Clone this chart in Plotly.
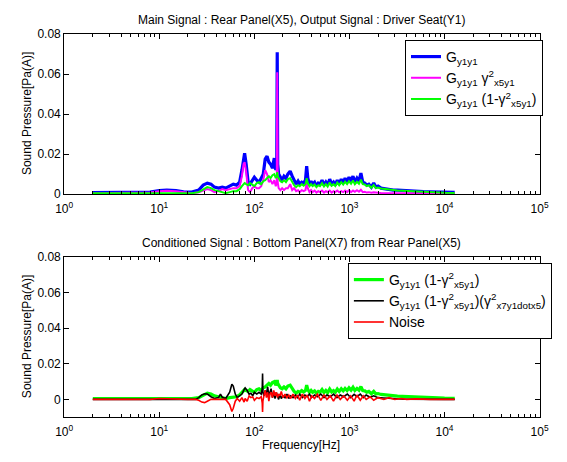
import plotly.graph_objects as go

# ---------------- data ----------------
freq_main = [2, 5, 8, 10, 12, 15, 18, 22, 26, 29, 32, 35, 38, 42, 46, 50, 55, 60, 65, 70,
             74, 77, 79, 82, 86, 90, 95, 100, 106, 112, 118, 124, 130, 136, 142, 148, 155,
             162, 168, 172, 174, 176, 180, 188, 196, 205, 215, 225, 238,
             250, 262, 275, 288, 300, 315, 330, 345, 355, 365,
             380, 395, 410, 430, 450, 470, 490, 515, 540, 565,
             590, 620, 650, 680, 710, 745, 780, 820, 860, 900,
             945, 990, 1040, 1090, 1140, 1200, 1260, 1320, 1380, 1450,
             1520, 1600, 1700, 1800, 1900, 2000, 2150, 2300, 2500, 2700,
             2900, 3200, 3600, 4200, 5000, 6000, 7000, 8500, 10000, 12800]

g_y1y1 = [0.0008, 0.0008, 0.001, 0.0018, 0.002, 0.0018, 0.0012, 0.001, 0.002, 0.0045, 0.0055,
          0.005, 0.0035, 0.003, 0.0035, 0.003, 0.004, 0.005, 0.0045, 0.006,
          0.012, 0.019, 0.0205, 0.015, 0.006, 0.005, 0.007, 0.0085, 0.007, 0.006, 0.008, 0.010,
          0.0175, 0.019, 0.016, 0.015, 0.013,
          0.018, 0.012, 0.015, 0.071, 0.015, 0.010, 0.008, 0.007, 0.009, 0.008, 0.010, 0.0115,
          0.009, 0.007, 0.005, 0.0065, 0.005, 0.006, 0.0055, 0.007, 0.014, 0.008,
          0.005, 0.0065, 0.005, 0.006, 0.004, 0.0055, 0.005, 0.007, 0.0045, 0.006,
          0.0045, 0.0075, 0.005, 0.006, 0.0045, 0.007, 0.005, 0.0075, 0.0055, 0.008,
          0.006, 0.0085, 0.0065, 0.009, 0.006, 0.008, 0.0065, 0.0105, 0.006, 0.0055,
          0.0045, 0.005, 0.0035, 0.0055, 0.0035, 0.004, 0.003, 0.0028, 0.0025, 0.0022,
          0.002, 0.002, 0.0018, 0.0016, 0.0015, 0.0013, 0.0012, 0.001, 0.001, 0.0009]

g_coh = [0.0005, 0.0005, 0.0008, 0.0015, 0.0017, 0.0015, 0.001, 0.0005, 0.001, 0.002, 0.0025,
         0.002, 0.001, 0.0015, 0.0025, 0.002, 0.0025, 0.003, 0.003, 0.004,
         0.009, 0.015, 0.016, 0.011, 0.002, 0.001, 0.003, 0.004, 0.003, 0.003, 0.004, 0.007,
         0.012, 0.010, 0.006, 0.007, 0.005,
         0.007, 0.004, 0.006, 0.061, 0.006, 0.003, 0.002, 0.003, 0.002, 0.003, 0.003, 0.005,
         0.002, 0.003, 0.0015, 0.002, 0.001, 0.002, 0.0015, 0.002, 0.006, 0.003,
         0.001, 0.002, 0.001, 0.0018, 0.0008, 0.0015, 0.001, 0.0018, 0.0008, 0.0015,
         0.001, 0.0018, 0.0008, 0.0015, 0.001, 0.0018, 0.0009, 0.0015, 0.001, 0.0018,
         0.001, 0.002, 0.001, 0.0018, 0.0012, 0.002, 0.0012, 0.0022, 0.001, 0.0012,
         0.0008, 0.001, 0.0007, 0.0009, 0.0006, 0.0007, 0.0006, 0.0006, 0.0005, 0.0005,
         0.0005, 0.0005, 0.0005, 0.0005, 0.0005, 0.0005, 0.0005, 0.0005, 0.0005, 0.0005]

g_incoh = [0.0005, 0.0005, 0.0005, 0.0006, 0.0007, 0.0007, 0.0006, 0.0005, 0.001, 0.0025, 0.0035,
           0.003, 0.002, 0.0015, 0.001, 0.0005, 0.001, 0.0015, 0.0015, 0.0025,
           0.004, 0.005, 0.0055, 0.005, 0.0045, 0.0055, 0.0045, 0.004, 0.0055, 0.006, 0.005,
           0.0065, 0.007, 0.008, 0.009, 0.008, 0.0095,
           0.010, 0.008, 0.009, 0.011, 0.009, 0.008, 0.0065, 0.006, 0.007, 0.006, 0.0075, 0.008,
           0.006, 0.0045, 0.0035, 0.0045, 0.004, 0.005, 0.0042, 0.005, 0.008, 0.0055,
           0.004, 0.005, 0.004, 0.0048, 0.0035, 0.0045, 0.004, 0.0055, 0.0038, 0.005,
           0.0038, 0.0058, 0.0042, 0.005, 0.004, 0.0058, 0.0045, 0.006, 0.0048, 0.0062,
           0.005, 0.0065, 0.0052, 0.0068, 0.005, 0.0062, 0.0052, 0.0072, 0.005, 0.0048,
           0.004, 0.0045, 0.0032, 0.0045, 0.003, 0.0033, 0.0028, 0.0026, 0.0024, 0.0021,
           0.002, 0.0018, 0.0017, 0.0015, 0.0013, 0.0011, 0.001, 0.0008, 0.0007, 0.0006]

freq_cond = [2, 5, 8, 10, 12, 15, 20, 24, 26, 28, 30, 32, 35, 38, 42, 44, 46, 50, 55, 58,
             60, 63, 66, 70, 74, 78, 80, 84, 88, 92, 96, 100, 106, 112, 118, 121, 122, 123,
             126, 130, 134, 138, 142, 146, 150, 155, 160, 165, 170, 175, 180, 186, 192, 200,
             210, 220, 230, 240, 255, 270, 285, 300, 320, 340, 360, 380, 400, 430, 460, 500,
             540, 580, 630, 680, 740, 800, 870, 950, 1030, 1120, 1200, 1300, 1400, 1500, 1650,
             1800, 2000, 2300, 2600, 3000, 3500, 4000, 5000, 6000, 7000, 8500, 10000, 12800]

g_cond_x7 = [0, 0, 0, 0.0003, 0.0002, 0, 0, 0, 0.001, 0.0025, 0.0032, 0.003, 0.0015, 0.0005,
             0.001, 0.003, 0.0012, 0.0005, 0.004, 0.0085,
             0.0075, 0.003, 0.001, 0.002, 0.003, 0.0055, 0.0065, 0.005, 0.003, 0.0035, 0.002,
             0.004, 0.003, 0.004, 0.003, 0.006, 0.0145, 0.004,
             0.002, 0.005, 0.003, 0.007, 0.002, 0.005, 0.006, 0.001, 0.004, 0.0005, 0.004,
             0.002, 0.0, 0.003, 0.0005, 0.002,
             0.001, 0.003, 0.0005, 0.002, 0.001, 0.0025, 0.001, 0.003, 0.001, 0.0025, 0.0015,
             0.003, 0.001, 0.0025, 0.0015, 0.003,
             0.001, 0.0025, 0.0015, 0.003, 0.001, 0.0025, 0.0015, 0.003, 0.001, 0.0028, 0.0015,
             0.003, 0.001, 0.0025, 0.0012,
             0.002, 0.001, 0.0008, 0.0005, 0.0003, 0.0002, 0.0001, 0, 0, 0, 0, 0, 0]

noise = [0, 0, 0, 0.0005, 0.0003, 0, 0, 0, -0.0005, -0.0015, -0.0018, -0.001, 0, 0,
         0, 0, 0, 0, -0.003, -0.0068,
         -0.005, -0.001, 0.0005, -0.001, 0.001, -0.0015, 0.0005, -0.001, 0.002, 0.001, 0.0015,
         -0.0005, 0.001, 0.0005, 0.0015, -0.002, -0.007, -0.001,
         0.002, 0.005, 0.001, 0.004, -0.001, 0.003, 0.004, 0.001, 0.005, 0.002, 0.004,
         0.001, 0.003, 0.002, 0.0045, 0.001,
         0.003, 0.001, 0.0025, 0.0005, 0.003, 0.0005, 0.0025, -0.0005, 0.003, 0.0005, 0.0025,
         -0.001, 0.002, 0.0005, 0.003, -0.0005,
         0.0025, 0, 0.002, -0.001, 0.0025, 0, 0.002, -0.0005, 0.002, -0.001, 0.0025,
         -0.0005, 0.002, 0, 0.0015,
         -0.0005, 0.001, 0, 0.001, 0, 0.0005, 0, 0.0003, 0, 0, 0, 0, 0]

xtick_vals = [1, 10, 100, 1000, 10000, 100000]
xtick_text = ["10<sup>0</sup>", "10<sup>1</sup>", "10<sup>2</sup>", "10<sup>3</sup>",
              "10<sup>4</sup>", "10<sup>5</sup>"]
ytick_vals = [0, 0.02, 0.04, 0.06, 0.08]
ytick_text = ["0", "0.02", "0.04", "0.06", "0.08"]

title_top = "Main Signal : Rear Panel(X5), Output Signal : Driver Seat(Y1)"
title_bottom = "Conditioned Signal : Bottom Panel(X7) from Rear Panel(X5)"
ylabel = "Sound Pressure[Pa(A)]"
xlabel = "Frequency[Hz]"

# ---------------- figure ----------------
W, H = 567, 462
FONT = "Liberation Sans, Arial, sans-serif"

def px_x(p):
    return p / W

def px_y(p):
    return 1 - p / H

# minor log ticks 2..9 x each decade
minor_vals = [m * d for d in xtick_vals[:-1] for m in range(2, 10)]

fig = go.Figure()

fig.add_trace(go.Scatter(x=freq_main, y=g_y1y1, mode="lines", line=dict(color="#0000ff", width=3.2),
                         name="G<sub>y1y1</sub>", xaxis="x", yaxis="y", legend="legend"))
fig.add_trace(go.Scatter(x=freq_main, y=g_coh, mode="lines", line=dict(color="#ff00ff", width=2),
                         name="G<sub>y1y1</sub> γ<sup>2</sup><sub>x5y1</sub>", xaxis="x", yaxis="y",
                         legend="legend"))
fig.add_trace(go.Scatter(x=freq_main, y=g_incoh, mode="lines", line=dict(color="#00ff00", width=2),
                         name="G<sub>y1y1</sub> (1-γ<sup>2</sup><sub>x5y1</sub>)", xaxis="x", yaxis="y",
                         legend="legend"))

fig.add_trace(go.Scatter(x=freq_main, y=g_incoh, mode="lines", line=dict(color="#00ff00", width=3.2),
                         name="G<sub>y1y1</sub> (1-γ<sup>2</sup><sub>x5y1</sub>)", xaxis="x2", yaxis="y2",
                         legend="legend2"))
fig.add_trace(go.Scatter(x=freq_cond, y=g_cond_x7, mode="lines", line=dict(color="#000000", width=1.6),
                         name="G<sub>y1y1</sub> (1-γ<sup>2</sup><sub>x5y1</sub>)(γ<sup>2</sup><sub>x7y1dotx5</sub>)",
                         xaxis="x2", yaxis="y2", legend="legend2"))
fig.add_trace(go.Scatter(x=freq_cond, y=noise, mode="lines", line=dict(color="#ff0000", width=1.6),
                         name="Noise", xaxis="x2", yaxis="y2", legend="legend2"))

xdom = [px_x(57), px_x(548)]

def xaxis_cfg(anchor):
    return dict(type="log", range=[0, 5], domain=xdom, anchor=anchor,
                tickmode="array", tickvals=xtick_vals, ticktext=xtick_text,
                ticks="inside", ticklen=5, tickcolor="black", tickwidth=1,
                showline=True, linecolor="black", linewidth=1, mirror="allticks",
                showgrid=False, zeroline=False, ticklabelstandoff=3,
                minor=dict(ticks="inside", ticklen=3, tickcolor="black", tickmode="array",
                           tickvals=minor_vals, showgrid=False),
                tickfont=dict(size=12, color="black", family=FONT))

def yaxis_cfg(anchor, dom, rng):
    return dict(range=rng, domain=dom, anchor=anchor,
                tickmode="array", tickvals=ytick_vals, ticktext=ytick_text,
                ticks="inside", ticklen=5, tickcolor="black", tickwidth=1,
                showline=True, linecolor="black", linewidth=1, mirror="allticks",
                showgrid=False, zeroline=False,
                tickfont=dict(size=12, color="black", family=FONT))

legend_common = dict(bgcolor="white", bordercolor="black", borderwidth=1,
                     font=dict(size=14, color="black", family=FONT),
                     xanchor="left", yanchor="top", tracegroupgap=0)

fig.update_layout(
    width=W, height=H, margin=dict(l=0, r=0, t=0, b=0),
    paper_bgcolor="white", plot_bgcolor="white",
    font=dict(family=FONT, size=12, color="black"),
    xaxis=xaxis_cfg("y"),
    yaxis=yaxis_cfg("x", [px_y(193), px_y(28)], [0, 0.08]),
    xaxis2=xaxis_cfg("y2"),
    yaxis2=yaxis_cfg("x2", [px_y(423), px_y(258)], [-0.01, 0.08]),
    legend=dict(x=px_x(409), y=px_y(34), **legend_common),
    legend2=dict(x=px_x(350), y=px_y(264), **legend_common),
    annotations=[
        dict(text=title_top, x=px_x(302), y=px_y(13), xref="paper", yref="paper",
             showarrow=False, font=dict(size=12), xanchor="center", yanchor="middle"),
        dict(text=title_bottom, x=px_x(302), y=px_y(243), xref="paper", yref="paper",
             showarrow=False, font=dict(size=12), xanchor="center", yanchor="middle"),
        dict(text=ylabel, x=px_x(18), y=px_y(110), xref="paper", yref="paper", textangle=-90,
             showarrow=False, font=dict(size=12), xanchor="center", yanchor="middle"),
        dict(text=ylabel, x=px_x(18), y=px_y(340), xref="paper", yref="paper", textangle=-90,
             showarrow=False, font=dict(size=12), xanchor="center", yanchor="middle"),
        dict(text=xlabel, x=px_x(302), y=px_y(452), xref="paper", yref="paper",
             showarrow=False, font=dict(size=12), xanchor="center", yanchor="middle"),
    ],
)

fig.write_html("out.html")
